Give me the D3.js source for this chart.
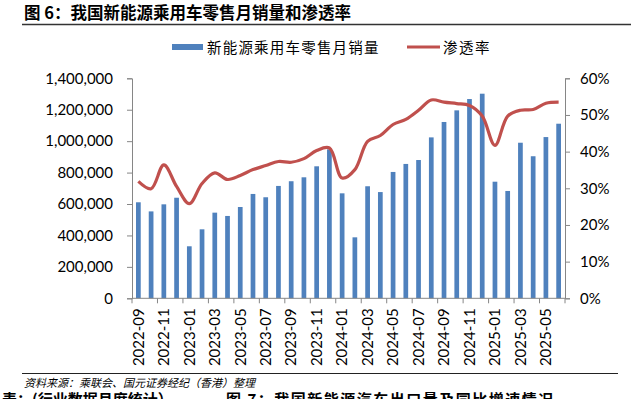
<!DOCTYPE html>
<html><head><meta charset="utf-8">
<script src="https://cdn.jsdelivr.net/npm/d3@7"></script>
<style>
html,body{margin:0;padding:0;background:#fff;}
svg{display:block;}
</style></head>
<body>
<svg id="c" width="641" height="399"></svg>
<script>
const months = ["2022-09","2022-10","2022-11","2022-12","2023-01","2023-02","2023-03","2023-04","2023-05","2023-06","2023-07","2023-08","2023-09","2023-10","2023-11","2023-12","2024-01","2024-02","2024-03","2024-04","2024-05","2024-06","2024-07","2024-08","2024-09","2024-10","2024-11","2024-12","2025-01","2025-02","2025-03","2025-04","2025-05","2025-06"];
const sales = [611000,553000,598000,640000,331000,439000,545000,524000,581000,664000,643000,715000,745000,770000,840000,948000,668000,388000,713000,676000,804000,855000,880000,1024000,1122000,1196000,1268000,1302000,742000,683000,990000,904000,1026000,1111000];
const penetration = [31.9,29.9,36.4,30.5,25.8,31.3,34.2,32.4,33.5,35.1,36.2,37.3,37.1,38.1,40.3,41.0,32.8,35.1,42.8,44.4,47.4,48.8,51.3,54.1,53.5,53.1,52.6,49.7,41.7,49.7,51.3,51.5,53.2,53.5];
const leftTicks = [0,200000,400000,600000,800000,1000000,1200000,1400000];
const rightTicks = [0,10,20,30,40,50,60];
const seriesNames = ["新能源乘用车零售月销量","渗透率"];
const titleText = "图 6：我国新能源乘用车零售月销量和渗透率";
const sourceText = "资料来源：乘联会、国元证券经纪（香港）整理";

const svg = d3.select("#c");
const L = 132, R = 565, T = 78.3, B = 298.3;
const axisColor = "#868686";
const numFont = "Lato, 'Open Sans', sans-serif";
const cjk = "'Noto Sans CJK SC', sans-serif";

const x = d3.scaleBand().domain(months).range([L, R]).paddingInner(0.63).paddingOuter(0.315);
const yL = d3.scaleLinear().domain([0, 1400000]).range([B, T]);
const yR = d3.scaleLinear().domain([0, 60]).range([B, T]);

// title
svg.append("text").attr("x", 24).attr("y", 19).attr("font-family", cjk).attr("font-weight", "bold")
  .attr("font-size", 16.5).attr("fill", "#000").text(titleText);
svg.append("line").attr("x1", 22).attr("x2", 631).attr("y1", 24.5).attr("y2", 24.5)
  .attr("stroke", "#333").attr("stroke-width", 1.5);

// bars
svg.append("g").selectAll("rect").data(sales).join("rect")
  .attr("x", (d, i) => x(months[i]))
  .attr("y", d => yL(d))
  .attr("width", x.bandwidth())
  .attr("height", d => B - yL(d))
  .attr("fill", "#4F81BD");

// line
const line = d3.line().x((d, i) => x(months[i]) + x.bandwidth() / 2).y(d => yR(d)).curve(d3.curveCatmullRom.alpha(0.5));
svg.append("path").datum(penetration).attr("d", line).attr("fill", "none")
  .attr("stroke", "#C0504D").attr("stroke-width", 3.2).attr("stroke-linejoin", "round");

// left axis
const gl = svg.append("g").attr("transform", `translate(${L},0)`)
  .call(d3.axisLeft(yL).tickValues(leftTicks).tickSize(5).tickPadding(14).tickFormat(d3.format(",")));
// right axis
const gr = svg.append("g").attr("transform", `translate(${R},0)`)
  .call(d3.axisRight(yR).tickValues(rightTicks).tickSize(5).tickPadding(10).tickFormat(d => d + "%"));
// bottom axis
const xTickVals = months.filter((m, i) => i % 2 === 0);
const gb = svg.append("g").attr("transform", `translate(0,${B})`)
  .call(d3.axisBottom(x).tickValues(xTickVals).tickSize(0).tickPadding(0));
gb.selectAll(".tick text").attr("transform", "rotate(-90)").attr("text-anchor", "end")
  .attr("x", -10).attr("y", 0).attr("dy", "0.35em");
// boundary tick marks every 2 categories
const step = x.step();
const bTicks = d3.range(0, months.length + 1, 2).map(i => L + i * (R - L) / months.length);
gb.selectAll(".btick").data(bTicks).join("line").attr("class", "btick")
  .attr("x1", d => d).attr("x2", d => d).attr("y1", 0).attr("y2", 5).attr("stroke", axisColor);

[gl, gr, gb].forEach(g => {
  g.select(".domain").attr("stroke", axisColor);
  g.selectAll(".tick line").attr("stroke", axisColor);
  g.selectAll(".tick text").attr("font-family", numFont).attr("font-size", 15).attr("fill", "#000");
});
gb.select(".domain").attr("d", `M${L},0H${R}`);

// legend
const lg = svg.append("g");
lg.append("rect").attr("x", 172).attr("y", 44).attr("width", 31).attr("height", 6).attr("fill", "#4F81BD");
lg.append("text").attr("x", 207).attr("y", 52.5).attr("font-family", cjk).attr("font-size", 14.5)
  .attr("letter-spacing", 1.2).attr("fill", "#000").text(seriesNames[0]);
lg.append("line").attr("x1", 407).attr("x2", 440).attr("y1", 47).attr("y2", 47)
  .attr("stroke", "#C0504D").attr("stroke-width", 3.2);
lg.append("text").attr("x", 443).attr("y", 52.5).attr("font-family", cjk).attr("font-size", 14.5)
  .attr("letter-spacing", 1.5).attr("fill", "#000").text(seriesNames[1]);

// source
svg.append("line").attr("x1", 22).attr("x2", 618).attr("y1", 373.5).attr("y2", 373.5)
  .attr("stroke", "#222").attr("stroke-width", 1.2);
svg.append("text").attr("x", 24).attr("y", 387).attr("font-family", cjk).attr("font-size", 11)
  .attr("font-style", "italic").attr("fill", "#000").text(sourceText);
// cut-off text at the bottom of the page
svg.append("text").attr("x", 2).attr("y", 405).attr("font-family", cjk).attr("font-size", 15).attr("font-weight", "bold")
  .attr("fill", "#000").text("表：(行业数据月度统计）");
svg.append("text").attr("x", 226).attr("y", 405).attr("font-family", cjk).attr("font-size", 15).attr("font-weight", "bold")
  .attr("fill", "#000").attr("letter-spacing", 1.5).text("图 7：我国新能源汽车出口量及同比增速情况");
</script>
</body></html>
